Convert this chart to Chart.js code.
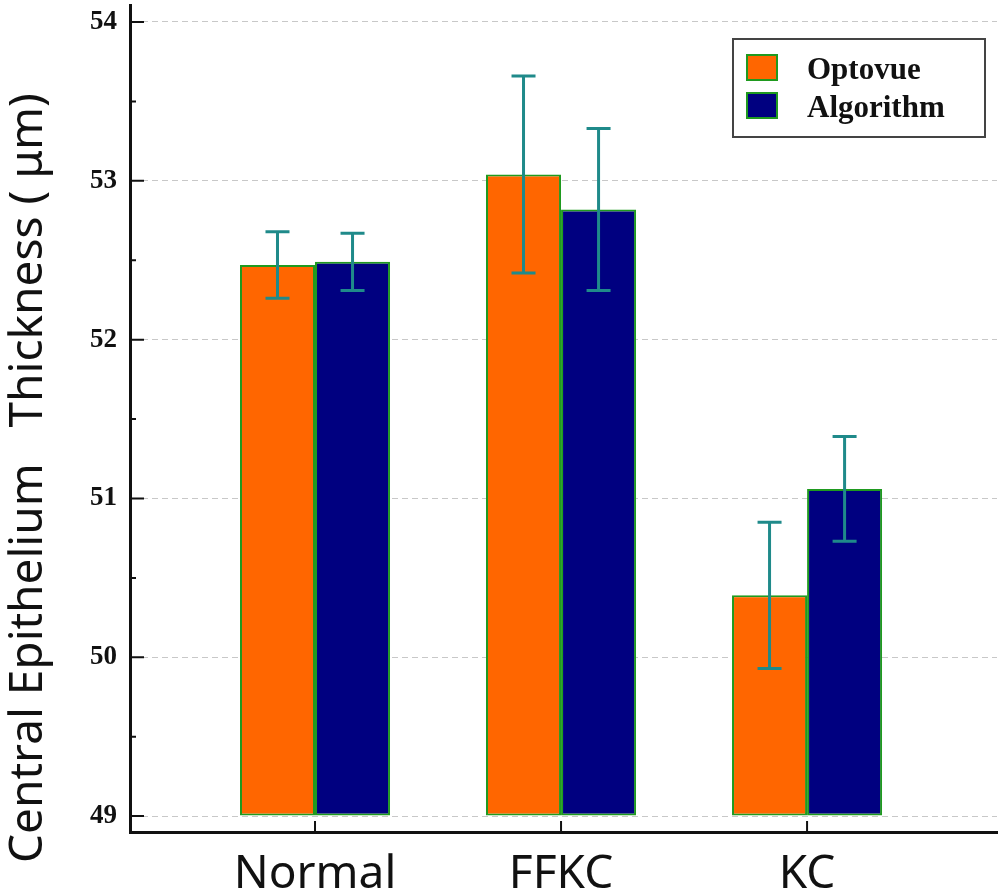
<!DOCTYPE html>
<html>
<head>
<meta charset="utf-8">
<script src="https://cdn.jsdelivr.net/npm/chart.js@4.4.1/dist/chart.umd.min.js"></script>
<style>
  html, body { margin: 0; padding: 0; background: #fff; }
  #wrap { width: 1000px; height: 893px; position: relative; }
</style>
</head>
<body>
<div id="wrap"><canvas id="chart"></canvas></div>
<script>
const groups = ["Normal", "FFKC", "KC"];
const groupPos = [1, 2, 3];
const seriesNames = ["Optovue", "Algorithm"];
const optovueMean = [52.47, 53.04, 50.39];
const optovueErr = [0.21, 0.62, 0.46];
const algorithmMean = [52.49, 52.82, 51.06];
const algorithmErr = [0.18, 0.51, 0.33];
const yTicks = [49, 50, 51, 52, 53, 54];
const yMinorTicks = [49.5, 50.5, 51.5, 52.5, 53.5];
const yTitle = "Central Epithelium   Thickness ( μm)";

const barBorder = "#1f9a1f";
const errColor = "#1f8a8a";

// error bars, inward ticks, rotated y title and boxed legend
const extras = {
  id: "extras",
  afterDatasetsDraw(chart) {
    const { ctx, scales } = chart;
    const y = scales.y;
    chart.data.datasets.forEach((ds, di) => {
      const meta = chart.getDatasetMeta(di);
      meta.data.forEach((bar, i) => {
        const m = ds.data[i].y;
        const e = ds.err[i];
        const yt = y.getPixelForValue(m + e);
        const yb = y.getPixelForValue(m - e);
        ctx.save();
        ctx.strokeStyle = errColor;
        ctx.lineWidth = 3;
        ctx.beginPath();
        ctx.moveTo(bar.x, yt);
        ctx.lineTo(bar.x, yb);
        ctx.moveTo(bar.x - 12, yt);
        ctx.lineTo(bar.x + 12, yt);
        ctx.moveTo(bar.x - 12, yb);
        ctx.lineTo(bar.x + 12, yb);
        ctx.stroke();
        ctx.restore();
      });
    });
  },
  afterDraw(chart) {
    const { ctx, scales, chartArea } = chart;
    const x = scales.x;
    const y = scales.y;
    ctx.save();
    ctx.strokeStyle = "#111";
    ctx.lineWidth = 2;
    ctx.beginPath();
    yTicks.forEach(v => {
      const p = y.getPixelForValue(v);
      ctx.moveTo(chartArea.left, p);
      ctx.lineTo(chartArea.left + 14, p);
    });
    yMinorTicks.forEach(v => {
      const p = y.getPixelForValue(v);
      ctx.moveTo(chartArea.left, p);
      ctx.lineTo(chartArea.left + 6, p);
    });
    groupPos.forEach(v => {
      const p = x.getPixelForValue(v);
      ctx.moveTo(p, chartArea.bottom);
      ctx.lineTo(p, chartArea.bottom - 11);
    });
    ctx.stroke();

    // y title
    ctx.fillStyle = "#111";
    ctx.font = '46px "Noto Sans"';
    ctx.textAlign = "left";
    ctx.textBaseline = "alphabetic";
    ctx.translate(42, 863);
    ctx.rotate(-Math.PI / 2);
    ctx.fillText(yTitle, 0, 0);
    ctx.restore();

    // legend
    ctx.save();
    ctx.fillStyle = "#fff";
    ctx.fillRect(733, 39, 252, 98);
    ctx.strokeStyle = "#444";
    ctx.lineWidth = 2;
    ctx.strokeRect(733, 39, 252, 98);
    chart.data.datasets.forEach((ds, di) => {
      const top = 55 + di * 38;
      ctx.fillStyle = ds.backgroundColor;
      ctx.fillRect(747, top, 30, 25);
      ctx.strokeStyle = barBorder;
      ctx.lineWidth = 2;
      ctx.strokeRect(747, top, 30, 25);
      ctx.fillStyle = "#111";
      ctx.font = 'bold 31px "Liberation Serif"';
      ctx.textAlign = "left";
      ctx.textBaseline = "alphabetic";
      ctx.fillText(ds.label, 807, top + 24);
    });
    ctx.restore();
  }
};

const ctx = document.getElementById("chart").getContext("2d");

const chart = new Chart(ctx, {
  type: "bar",
  data: {
    datasets: [
      {
        label: seriesNames[0],
        data: groupPos.map((x, i) => ({ x, y: optovueMean[i] })),
        err: optovueErr,
        backgroundColor: "#ff6600",
      },
      {
        label: seriesNames[1],
        data: groupPos.map((x, i) => ({ x, y: algorithmMean[i] })),
        err: algorithmErr,
        backgroundColor: "#000080",
      },
    ],
  },
  options: {
    responsive: true,
    maintainAspectRatio: false,
    animation: false,
    layout: { padding: { top: 5, right: 3, left: 0, bottom: 0 } },
    datasets: {
      bar: {
        base: 49,
        borderColor: barBorder,
        borderWidth: 2,
        borderSkipped: false,
        categoryPercentage: 0.61,
        barPercentage: 1,
      },
    },
    plugins: {
      legend: { display: false },
      tooltip: { enabled: false },
    },
    scales: {
      x: {
        type: "linear",
        offset: false,
        min: 0.248,
        max: 3.772,
        afterBuildTicks: (s) => {
          s.ticks = groupPos.map(v => ({ value: v }));
        },
        afterFit: (s) => {
          s.height = 61;
          s.paddingLeft = 0;
          s.paddingRight = 0;
        },
        grid: { display: false, drawTicks: false },
        border: { color: "#111", width: 3 },
        ticks: {
          callback: (v) => groups[groupPos.indexOf(v)] || "",
          color: "#111",
          font: { family: "Noto Sans", size: 46 },
          padding: 15,
          maxRotation: 0,
        },
      },
      y: {
        min: 48.9,
        max: 54.107,
        afterBuildTicks: (s) => {
          s.ticks = yTicks.map(v => ({ value: v }));
        },
        afterFit: (s) => {
          s.width = 130;
          s.paddingTop = 0;
          s.paddingBottom = 0;
        },
        grid: { color: "#c8c8c8", lineWidth: 1, drawTicks: false },
        border: { color: "#111", width: 3, dash: [6, 4] },
        ticks: {
          color: "#111",
          font: { family: "Liberation Serif", size: 27, weight: "bold" },
          padding: 13,
        },
      },
    },
  },
  plugins: [extras],
});
</script>
</body>
</html>
